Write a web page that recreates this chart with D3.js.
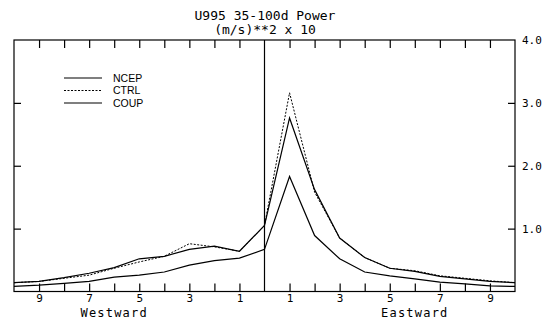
<!DOCTYPE html>
<html><head><meta charset="utf-8">
<script src="https://cdn.jsdelivr.net/npm/d3@7"></script>
<style>
body{margin:0;background:#fff;}
svg{display:block;}
.mono{font-family:"DejaVu Sans Mono",monospace;}
</style></head>
<body><svg id="c" width="547" height="320"></svg>
<script>
const titleLines = ["U995 35-100d Power", "(m/s)**2 x 10"];
const wavenumbers = [-10,-9,-8,-7,-6,-5,-4,-3,-2,-1,0,1,2,3,4,5,6,7,8,9,10];
const ncep = [0.08,0.10,0.13,0.16,0.23,0.26,0.31,0.42,0.49,0.53,0.67,1.83,0.89,0.52,0.31,0.25,0.20,0.15,0.12,0.09,0.08];
const ctrl = [0.14,0.16,0.21,0.26,0.37,0.47,0.56,0.76,0.71,0.64,1.05,3.16,1.58,0.85,0.54,0.37,0.33,0.25,0.21,0.17,0.14];
const coup = [0.14,0.16,0.22,0.29,0.38,0.52,0.56,0.67,0.72,0.64,1.05,2.76,1.62,0.85,0.54,0.37,0.32,0.24,0.20,0.16,0.14];
const seriesNames = ["NCEP","CTRL","COUP"];
const xLabelTicks = [-9,-7,-5,-3,-1,1,3,5,7,9];
const xMinorTicks = [-9,-8,-7,-6,-5,-4,-3,-2,-1,1,2,3,4,5,6,7,8,9];
const yTicks = [1,2,3];
const yLabelTicks = [1,2,3,4];
const sideLabels = ["Westward","Eastward"];

const svg = d3.select("#c");
const L=14, R=515, T=40, B=291.5;
const x = d3.scaleLinear().domain([-10,10]).range([L,R]);
const y = d3.scaleLinear().domain([0,4]).range([B,T]);

// title
svg.append("text").attr("class","mono").attr("x",265).attr("y",20).attr("text-anchor","middle")
  .attr("font-size",13).text(titleLines[0]);
svg.append("text").attr("class","mono").attr("x",265).attr("y",34).attr("text-anchor","middle")
  .attr("font-size",13).text(titleLines[1]);

// frame
svg.append("rect").attr("x",L).attr("y",T).attr("width",R-L).attr("height",B-T)
  .attr("fill","none").attr("stroke","#000").attr("stroke-width",1.2);
// center line
svg.append("line").attr("x1",x(0)).attr("x2",x(0)).attr("y1",T).attr("y2",B)
  .attr("stroke","#000").attr("stroke-width",1.2);

// bottom ticks (inward)
const gb = svg.append("g").attr("transform",`translate(0,${B})`)
  .call(d3.axisTop(x).tickValues(xMinorTicks).tickSize(8).tickFormat(""));
gb.select(".domain").remove();
gb.selectAll("line").attr("stroke","#000").attr("stroke-width",1.2);
// top ticks
const gt = svg.append("g").attr("transform",`translate(0,${T})`)
  .call(d3.axisBottom(x).tickValues(xMinorTicks).tickSize(8).tickFormat(""));
gt.select(".domain").remove();
gt.selectAll("line").attr("stroke","#000").attr("stroke-width",1.2);
// bottom labels
const gbl = svg.append("g").attr("transform",`translate(0,${B})`)
  .call(d3.axisBottom(x).tickValues(xLabelTicks).tickSize(0).tickPadding(3).tickFormat(d=>Math.abs(d)));
gbl.select(".domain").remove();
gbl.selectAll("text").attr("class","mono").attr("font-size",11).attr("fill","#000")
  .attr("font-family","DejaVu Sans Mono");

// left ticks
const gl = svg.append("g").attr("transform",`translate(${L},0)`)
  .call(d3.axisRight(y).tickValues(yTicks).tickSize(7).tickFormat(""));
gl.select(".domain").remove();
gl.selectAll("line").attr("stroke","#000").attr("stroke-width",1.2);
// right ticks + labels
const gr = svg.append("g").attr("transform",`translate(${R},0)`)
  .call(d3.axisLeft(y).tickValues(yTicks).tickSize(7).tickFormat(""));
gr.select(".domain").remove();
gr.selectAll("line").attr("stroke","#000").attr("stroke-width",1.2);
const grl = svg.append("g").attr("transform",`translate(${R},0)`)
  .call(d3.axisRight(y).tickValues(yLabelTicks).tickSize(0).tickPadding(7).tickFormat(d3.format(".1f")));
grl.select(".domain").remove();
grl.selectAll("text").attr("font-size",11).attr("fill","#000").attr("font-family","DejaVu Sans Mono");

// side labels
svg.append("text").attr("class","mono").attr("x",x(-6)).attr("y",317).attr("text-anchor","middle")
  .attr("font-size",12).attr("letter-spacing",1.2).text(sideLabels[0]);
svg.append("text").attr("class","mono").attr("x",x(6)).attr("y",317).attr("text-anchor","middle")
  .attr("font-size",12).attr("letter-spacing",1.2).text(sideLabels[1]);

// lines
const line = d3.line().x((d,i)=>x(wavenumbers[i])).y(d=>y(d));
const series = [
  {name:seriesNames[0], vals:ncep, dash:null},
  {name:seriesNames[1], vals:ctrl, dash:"2,1.5"},
  {name:seriesNames[2], vals:coup, dash:null}
];
series.forEach(s=>{
  svg.append("path").attr("d",line(s.vals)).attr("fill","none").attr("stroke","#000")
    .attr("stroke-width",s.dash?1:1.2).attr("stroke-dasharray",s.dash);
});

// legend
const legY = d3.scalePoint().domain(seriesNames).range([78,103]);
series.forEach(s=>{
  svg.append("line").attr("x1",64).attr("x2",102).attr("y1",legY(s.name)).attr("y2",legY(s.name))
    .attr("stroke","#000").attr("stroke-width",s.dash?1:1.2).attr("stroke-dasharray",s.dash);
  svg.append("text").attr("x",113).attr("y",legY(s.name)).attr("dy","0.35em")
    .attr("font-family","Liberation Sans, Arial, sans-serif").attr("font-size",10.5).text(s.name);
});
</script></body></html>
